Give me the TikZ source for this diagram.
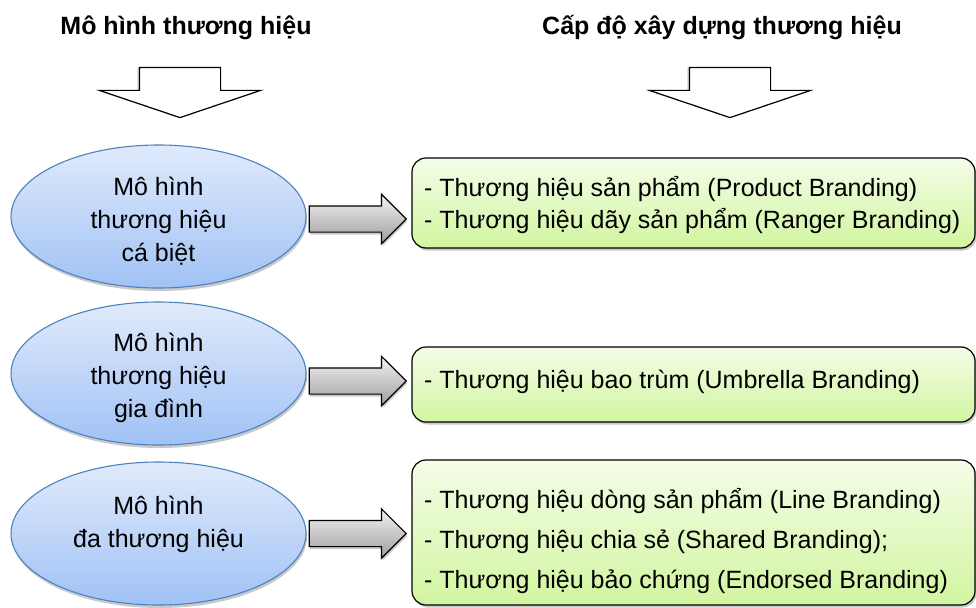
\documentclass[tikz,border=0pt]{standalone}
\usepackage{fontspec}
\setmainfont{Liberation Sans}
\usetikzlibrary{shapes.geometric,shapes.arrows,shadows}
\definecolor{ellTop}{RGB}{224,234,252}
\definecolor{ellBot}{RGB}{160,194,245}
\definecolor{ellLine}{RGB}{79,129,189}
\definecolor{boxTop}{RGB}{244,253,232}
\definecolor{boxBot}{RGB}{210,245,160}
\definecolor{arrTop}{RGB}{242,242,242}
\definecolor{arrBot}{RGB}{158,158,158}
\newcommand{\ellfirst}{\rule{0pt}{28pt}}
\begin{document}
\begin{tikzpicture}[x=1pt,y=-1pt,
  titletext/.style={font=\bfseries\fontsize{25}{30}\selectfont, inner sep=0},
  modelell/.style={ellipse, draw=ellLine, line width=1.1pt, top color=ellTop, bottom color=ellBot,
    minimum width=295, minimum height=143, inner sep=0, align=center,
    font=\fontsize{25}{33}\selectfont,
    drop shadow={shadow xshift=1pt, shadow yshift=-3pt, opacity=0.35, fill=black!60}},
  levelbox/.style={rectangle, rounded corners=14pt, draw=black, line width=1.2pt,
    top color=boxTop, bottom color=boxBot, minimum width=563, inner sep=0,
    drop shadow={shadow xshift=1.5pt, shadow yshift=-2.5pt, opacity=0.35, fill=black!60}},
  boxtext/.style={anchor=west, align=left, inner sep=0},
  rightarrow/.style={single arrow, draw=black, line width=1.2pt, top color=arrTop, bottom color=arrBot,
    minimum height=97, inner xsep=0, inner ysep=12.5, single arrow head extend=11.5, single arrow tip angle=90,
    anchor=tail,
    drop shadow={shadow xshift=1pt, shadow yshift=-2.5pt, opacity=0.35, fill=black!60}},
  downarrow/.style={single arrow, draw=black, fill=white, line width=1.2pt,
    minimum height=50, inner xsep=0, inner ysep=40, single arrow head extend=40, single arrow tip angle=142.7,
    rotate=-90, anchor=tail,
    drop shadow={shadow xshift=-2pt, shadow yshift=0pt, opacity=0.3, fill=black!60}}
]
\useasboundingbox[fill=white] (0,0) rectangle (976,607);

% titles
\node[titletext] (h1) at (186,28) {Mô hình thương hiệu};
\node[titletext] (h2) at (722,28) {Cấp độ xây dựng thương hiệu};

% down arrows
\node[downarrow] (d1) at (180,67) {};
\node[downarrow] (d2) at (730,67) {};

% ellipses
\node[modelell] (e1) at (158.5,216.5) {\ellfirst Mô hình\\thương hiệu\\cá biệt};
\node[modelell] (e2) at (158.5,373.5) {\ellfirst Mô hình\\thương hiệu\\gia đình};
\node[modelell] (e3) at (158.5,533.5) {\ellfirst Mô hình\\đa thương hiệu\\~};

% boxes
\node[levelbox, minimum height=90] (b1) at (693.5,203) {};
\node[levelbox, minimum height=75] (b2) at (693.5,384.5) {};
\node[levelbox, minimum height=145] (b3) at (693.5,532.5) {};

% box texts
\node[boxtext, font=\fontsize{25}{32}\selectfont] (t1) at (424,205)
  {- Thương hiệu sản phẩm (Product Branding)\\- Thương hiệu dãy sản phẩm (Ranger Branding)};
\node[boxtext, font=\fontsize{25}{32}\selectfont] (t2) at (424,382)
  {- Thương hiệu bao trùm (Umbrella Branding)};
\node[boxtext, font=\fontsize{25}{40}\selectfont] (t3) at (424,541)
  {- Thương hiệu dòng sản phẩm (Line Branding)\\- Thương hiệu chia sẻ (Shared Branding);\\- Thương hiệu bảo chứng (Endorsed Branding)};

% right arrows (from ellipse to box)
\node[rightarrow] (a1) at ([xshift=2pt]e1.east |- 0,219) {};
\node[rightarrow] (a2) at ([xshift=2pt]e2.east |- 0,381) {};
\node[rightarrow] (a3) at ([xshift=2pt]e3.east |- 0,533.5) {};
\end{tikzpicture}
\end{document}
